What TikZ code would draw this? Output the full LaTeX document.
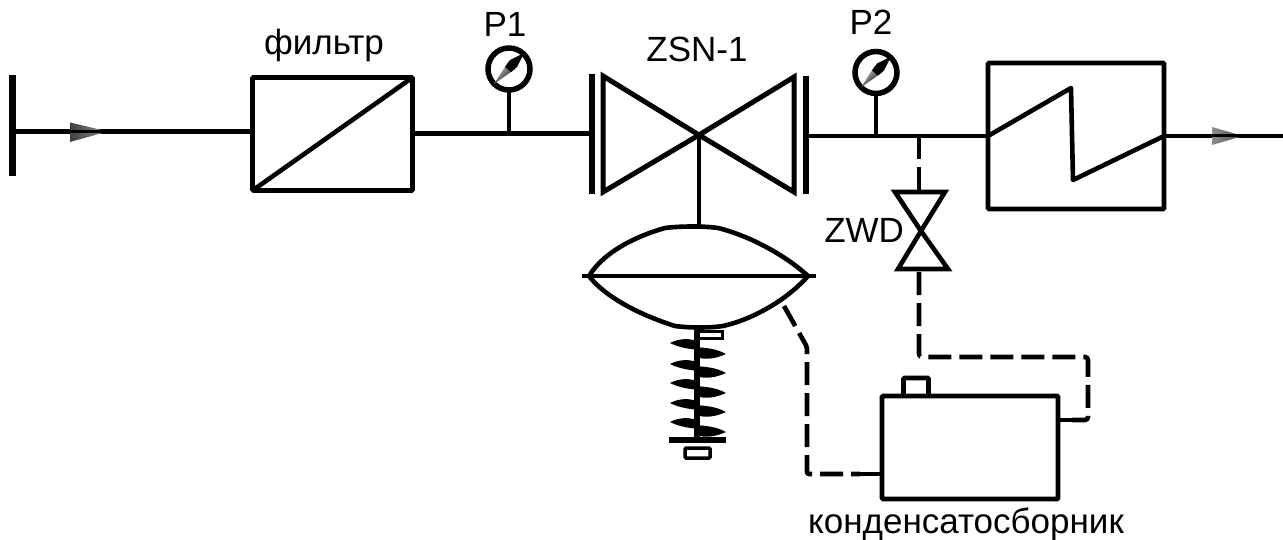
\documentclass[tikz,border=0pt]{standalone}
\usepackage{fontspec}
\setmainfont{Liberation Sans}
\usetikzlibrary{calc}
\tikzset{
  pipe/.style={line width=4.6pt,line cap=butt,line join=round,draw=black},
  dashline/.style={line width=4.6pt,line join=round,draw=black,dash pattern=on 23pt off 8pt},
  boxn/.style={draw=black,line width=4.6pt,rounded corners=1pt,inner sep=0pt,outer sep=0pt,fill=white},
  gaugen/.style={circle,draw=black,line width=5.5pt,minimum size=42pt,inner sep=0pt,outer sep=0pt},
  lab/.style={inner sep=0pt,outer sep=0pt,text=black,font=\fontsize{35}{37}\selectfont,anchor=base},
}
\begin{document}
\begin{tikzpicture}[x=1pt,y=-1pt]
\useasboundingbox (0,0) rectangle (1283,540);
% named points
\coordinate (barT) at (12.5,75);
\coordinate (barB) at (12.5,176);
\coordinate (inS) at (12.5,131.5);
\coordinate (fIn) at (253,131.5);
\coordinate (fOut) at (412,133.5);
\coordinate (fL) at (589,133.5);
\coordinate (apex) at (699,135);
\coordinate (vOut) at (807,136);
\coordinate (hIn) at (988,136);
\coordinate (hOut) at (1164,136);
\coordinate (outE) at (1283,136);
\coordinate (t1) at (919,136);
\coordinate (zc) at (921,231);
% boxes
\node[boxn,minimum width=160pt,minimum height=113pt] (filter) at (332.5,134) {};
\node[boxn,minimum width=176pt,minimum height=146pt] (heater) at (1076,136) {};
\node[boxn,minimum width=25pt,minimum height=20pt] (tab) at (916,388) {};
\node[boxn,minimum width=176pt,minimum height=103pt] (tank) at (970,447.5) {};
\node[gaugen] (p1) at (509,69) {};
\node[gaugen] (p2) at (876,72.5) {};
% lines
\draw[pipe,line width=7pt] (barT) -- (barB);
\draw[pipe] (inS) -- (fIn);
\draw[pipe] (fOut) -- (fL);
\draw[pipe] (vOut) -- (hIn);
\draw[pipe] (hOut) -- (outE);
\draw[pipe] (p1.south) -- (509,133.5);
\draw[pipe] (p2.south) -- (876,136);
\draw[pipe] (filter.south west) -- (filter.north east);
% gauge needles
\foreach \g in {p1,p2}{
  \shade[left color=black,right color=gray!30,shading angle=225] ($(\g)+(-1,-7)$) -- ($(\g)+(6,0)$) -- ($(\g)+(-15,15)$) -- cycle;
  \fill[black] ($(\g)+(15,-16)$) -- ($(\g)+(1,-9)$) -- ($(\g)+(-4,-2)$) -- ($(\g)+(2,3)$) -- ($(\g)+(8,-2)$) -- cycle;
}
% heater zigzag
\draw[pipe] (hIn) -- (1071,88) -- (1073,180) -- (hOut);
% arrows
\shade[left color=black!75,right color=black!45] (70,122.5) -- (108,131.5) -- (70,142) -- cycle;
\draw[black,line width=3pt] (70,131.5) -- (108,131.5);
\shade[left color=black!45,right color=black!70] (1212,127) -- (1243,136) -- (1212,145) -- cycle;
\draw[black,line width=3pt] (1200,136) -- (1243,136);
% main valve
\draw[pipe,line width=5.5pt] (592,74) -- (592,194);
\draw[pipe,line width=5.5pt] (806,76) -- (806,194);
\draw[pipe,line width=5pt,line join=miter] (603,76) -- (603,192) -- (apex) -- cycle;
\draw[pipe,line width=5pt,line join=miter] (794,77) -- (794,192) -- (apex) -- cycle;
\draw[pipe] (apex) -- (699,227);
% diaphragm
\draw[pipe] (589,276) .. controls (605,250) and (640,235) .. (665,228) .. controls (680,226) and (705,226) .. (718,228) .. controls (750,236) and (785,255) .. (808,276);
\draw[pipe] (589,276) .. controls (605,297) and (640,315) .. (675,326) .. controls (690,328) and (710,328) .. (723,326) .. controls (750,320) and (785,302) .. (808,276);
\draw[pipe] (582,276) -- (816,276);
% spring
\draw[line width=3pt,draw=black,fill=white] (698,331) rectangle (722,338);
\foreach \ya/\yb in {343/354,364/373,383/393,403/412,422/432}{
  \fill[black] (670,\ya) .. controls (680,\ya-5) and (690,\ya-5) .. (699,\ya-1) -- (699,\ya+7) .. controls (690,\ya+6) and (680,\ya+5) .. cycle;
  \fill[black] (726,\yb) .. controls (715,\yb-6) and (705,\yb-6) .. (696,\yb-7) -- (696,\yb+3) .. controls (705,\yb+6) and (715,\yb+5) .. cycle;
}
\draw[pipe,line width=5.5pt] (669,440) -- (726,440);
\draw[pipe,line width=6pt] (697,328) -- (697,441);
\draw[black,line width=3.5pt,fill=white,rounded corners=1pt] (685,448) rectangle (710,458);
% ZWD valve
\draw[pipe,line join=miter] (895,192) -- (945,192) -- (zc) -- cycle;
\draw[pipe,line join=miter] (898,269) -- (948,269) -- (zc) -- cycle;
% dashed
\draw[dashline] (t1) -- (919,190);
\draw[dashline,rounded corners=3pt] (919,272) -- (919,357) -- (1088,357) -- (1088,420) -- (1072,420);
\draw[pipe] (1072,420) -- (tank.east |- 0,420);
\draw[dashline,rounded corners=2pt] (784,306) -- (807,347) -- (807,474) -- (860,474);
\draw[pipe] (858,474) -- (tank.west |- 0,474);
% labels
\node[lab] (lf) at (324,55) {фильтр};
\node[lab] (lp1) at (505,37) {P1};
\node[lab] (lz) at (697,62) {ZSN-1};
\node[lab] (lp2) at (871,35) {P2};
\node[lab,anchor=base east] (lw) at (904,243) {ZWD};
\node[lab] (lk) at (966,533) {конденсатосборник};
\end{tikzpicture}
\end{document}
